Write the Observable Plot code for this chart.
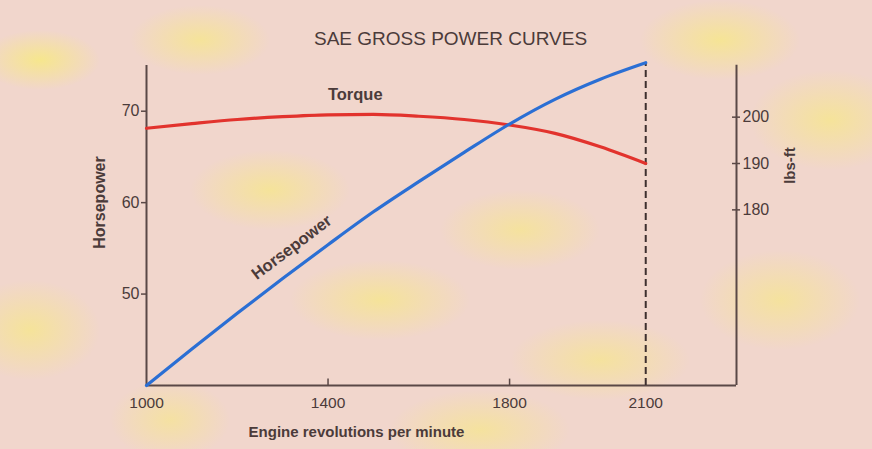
<!DOCTYPE html>
<html>
<head>
<meta charset="utf-8">
<script src="https://cdn.jsdelivr.net/npm/d3@7"></script>
<script src="https://cdn.jsdelivr.net/npm/@observablehq/plot@0.6"></script>
<style>
  html, body { margin: 0; padding: 0; }
  body {
    width: 872px; height: 449px; overflow: hidden;
    background-color: #f1d6cc;
    background-image:
      radial-gradient(ellipse 60px 30px at 40px 60px, rgba(248,236,120,0.75), rgba(248,236,120,0) 100%),
      radial-gradient(ellipse 70px 35px at 200px 40px, rgba(248,236,120,0.6), rgba(248,236,120,0) 100%),
      radial-gradient(ellipse 80px 40px at 270px 190px, rgba(248,236,120,0.6), rgba(248,236,120,0) 100%),
      radial-gradient(ellipse 90px 40px at 380px 300px, rgba(248,236,120,0.6), rgba(248,236,120,0) 100%),
      radial-gradient(ellipse 80px 40px at 520px 230px, rgba(248,236,120,0.55), rgba(248,236,120,0) 100%),
      radial-gradient(ellipse 90px 40px at 600px 360px, rgba(248,236,120,0.55), rgba(248,236,120,0) 100%),
      radial-gradient(ellipse 80px 40px at 720px 40px, rgba(248,236,120,0.65), rgba(248,236,120,0) 100%),
      radial-gradient(ellipse 80px 50px at 830px 120px, rgba(248,236,120,0.6), rgba(248,236,120,0) 100%),
      radial-gradient(ellipse 80px 50px at 780px 300px, rgba(248,236,120,0.55), rgba(248,236,120,0) 100%),
      radial-gradient(ellipse 70px 50px at 30px 330px, rgba(248,236,120,0.6), rgba(248,236,120,0) 100%),
      radial-gradient(ellipse 90px 40px at 480px 430px, rgba(248,236,120,0.55), rgba(248,236,120,0) 100%),
      radial-gradient(ellipse 60px 40px at 170px 420px, rgba(248,236,120,0.5), rgba(248,236,120,0) 100%);
  }
  svg { display: block; }
</style>
</head>
<body>
<div id="chart"></div>
<script>
// ---- data ----
const rpm = [1000, 1100, 1200, 1300, 1400, 1500, 1600, 1700, 1800, 1900, 2000, 2100];
const horsepower = [40.0, 44.0, 47.9, 51.7, 55.4, 59.0, 62.3, 65.5, 68.6, 71.3, 73.5, 75.3];
const torque = [197.6, 198.6, 199.5, 200.1, 200.5, 200.6, 200.2, 199.5, 198.3, 196.5, 193.6, 190.0];
const xTicks = [1000, 1400, 1800, 2100];
const hpTicks = [50, 60, 70];
const torqueTicks = [180, 190, 200];
const title = "SAE GROSS POWER CURVES";
const xLabel = "Engine revolutions per minute";
const hpLabel = "Horsepower";
const torqueLabel = "lbs-ft";
const hpCurveLabel = "Horsepower";
const torqueCurveLabel = "Torque";
const hpRange = [40, 75];
const rpmRange = [1000, 2300];
const markerRpm = 2100;

// torque (lbs-ft) -> horsepower-scale mapping for the secondary axis
const t2h = d3.scaleLinear().domain([180, 200]).range([59.21, 69.35]);

const hpData = rpm.map((r, i) => ({rpm: r, value: horsepower[i]}));
const tqData = rpm.map((r, i) => ({rpm: r, value: t2h(torque[i])}));

const ink = "#4b3b3a";
const axisInk = "#5a4846";
const font = "'Liberation Sans', Arial, sans-serif";

const chart = Plot.plot({
  width: 872,
  height: 449,
  marginLeft: 146,
  marginRight: 136,
  marginTop: 65,
  marginBottom: 64,
  style: {background: "transparent", fontFamily: font, color: ink, overflow: "visible"},
  x: {type: "linear", domain: rpmRange},
  y: {type: "linear", domain: hpRange},
  marks: [
    // axis lines
    Plot.ruleX([rpmRange[0]], {y1: hpRange[0], y2: hpRange[1], stroke: axisInk, strokeWidth: 2}),
    Plot.ruleX([rpmRange[1]], {y1: hpRange[0], y2: t2h(211.2), stroke: axisInk, strokeWidth: 2}),
    Plot.ruleY([hpRange[0]], {x1: rpmRange[0], x2: rpmRange[1], stroke: axisInk, strokeWidth: 2}),
    // inner x ticks
    Plot.ruleX(xTicks.filter(d => d !== rpmRange[0] && d !== markerRpm), {y1: hpRange[0], y2: hpRange[0] + 0.7, stroke: axisInk, strokeWidth: 1.5}),
    // dashed marker
    Plot.ruleX([markerRpm], {y1: hpRange[0], y2: horsepower[horsepower.length - 1], stroke: "#3e302f", strokeWidth: 2, strokeDasharray: "7,4"}),
    // axes
    Plot.axisX({ticks: xTicks, tickSize: 0, tickPadding: 11, fontSize: 15.5, label: null, tickFormat: d => String(d)}),
    Plot.axisY({ticks: hpTicks, tickSize: 5, tickPadding: 2, fontSize: 16, label: null, stroke: axisInk, strokeWidth: 1.5}),
    Plot.axisY({
      anchor: "right",
      ticks: torqueTicks.map(t2h),
      tickFormat: d => String(Math.round(t2h.invert(d))),
      tickSize: 0,
      tickPadding: 6,
      fontSize: 16,
      label: null
    }),
    Plot.axisY({
      anchor: "right",
      ticks: torqueTicks.map(t2h),
      tickFormat: () => "",
      tickSize: 8,
      dx: -5,
      stroke: axisInk,
      strokeWidth: 1.5,
      label: null
    }),
    // curves
    Plot.line(tqData, {x: "rpm", y: "value", stroke: "#e2332d", strokeWidth: 3.2, curve: "monotone-x"}),
    Plot.line(hpData, {x: "rpm", y: "value", stroke: "#2b6fd4", strokeWidth: 3.2, curve: "monotone-x"}),
    // curve labels
    Plot.text([torqueCurveLabel], {x: 1460, y: t2h(204.8), text: d => d, fontSize: 16.5, fontWeight: "bold", fill: ink}),
    Plot.text([hpCurveLabel], {x: 1320, y: 55.1, text: d => d, fontSize: 16.5, fontWeight: "bold", fill: ink, rotate: -37}),
    // axis titles
    Plot.text([hpLabel], {frameAnchor: "left", textAnchor: "middle", dx: -47, dy: -23, rotate: -90, text: d => d, fontSize: 16, fontWeight: "bold", fill: ink, letterSpacing: "0.6px"}),
    Plot.text([torqueLabel], {frameAnchor: "right", textAnchor: "middle", dx: 54, dy: -60, rotate: -90, text: d => d, fontSize: 15, fontWeight: "bold", fill: ink}),
    Plot.text([xLabel], {frameAnchor: "bottom-left", textAnchor: "middle", dx: 210, dy: 51, text: d => d, fontSize: 15, fontWeight: "bold", fill: ink}),
    Plot.text([title], {frameAnchor: "top", dx: 9, dy: -34, text: d => d, fontSize: 19, fill: ink, letterSpacing: "2.4px"})
  ]
});
document.getElementById("chart").appendChild(chart);
</script>
</body>
</html>
